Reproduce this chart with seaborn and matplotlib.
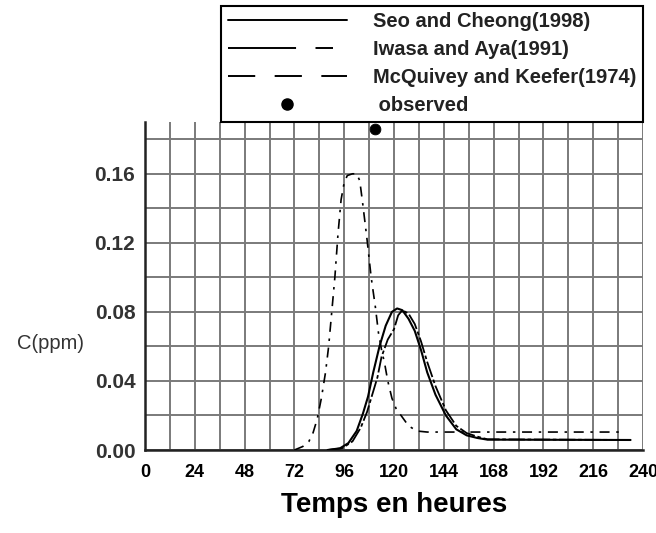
import matplotlib
matplotlib.use("Agg")
import matplotlib.pyplot as plt
from matplotlib.lines import Line2D
from matplotlib.ticker import MultipleLocator
import seaborn as sns
import pandas as pd

# ---------------- data ----------------
seo_hours = [88, 94, 98, 102, 105, 107.5, 110, 113, 116, 119, 121.5, 124, 127, 130,
             133, 136, 140, 145, 150, 155, 160, 165, 234]
seo_conc = [0.0, 0.001, 0.004, 0.011, 0.021, 0.031, 0.045, 0.060, 0.072, 0.080,
            0.082, 0.081, 0.076, 0.069, 0.058, 0.045, 0.032, 0.020, 0.012, 0.0085,
            0.007, 0.006, 0.0058]

iwasa_hours = [88, 95, 100, 104, 107, 110, 112, 114, 117, 120, 122, 124, 127, 130,
               133, 136, 140, 145, 150, 155, 160, 165, 234]
iwasa_conc = [0.0, 0.001, 0.005, 0.013, 0.022, 0.034, 0.042, 0.054, 0.064, 0.070,
              0.078, 0.081, 0.079, 0.073, 0.063, 0.051, 0.037, 0.023, 0.014, 0.0098,
              0.0078, 0.0062, 0.0058]

mcq_hours = [72, 76, 79, 81, 83, 85, 87, 88.5, 90, 91.5, 93, 94.5, 96, 97.5, 100,
             102, 103.5, 105, 107, 109, 111, 112.5, 114, 115.5, 117, 119, 121, 124,
             127, 131, 136, 231]
mcq_conc = [0.0, 0.002, 0.005, 0.010, 0.018, 0.030, 0.045, 0.060, 0.080, 0.100,
            0.125, 0.145, 0.155, 0.159, 0.160, 0.160, 0.156, 0.142, 0.122, 0.100,
            0.083, 0.068, 0.058, 0.050, 0.040, 0.030, 0.024, 0.019, 0.014, 0.011,
            0.0104, 0.0104]

obs_hours = [111]
obs_conc = [0.186]

x_ticks = [0, 24, 48, 72, 96, 120, 144, 168, 192, 216, 240]
y_ticks = [0.00, 0.04, 0.08, 0.12, 0.16]

legend_labels = ["Seo and Cheong(1998)", "Iwasa and Aya(1991)",
                 "McQuivey and Keefer(1974)", " observed"]

# ---------------- figure ----------------
sns.set_style("white")
plt.rcParams["font.family"] = ["Liberation Sans", "DejaVu Sans"]

W, H = 656, 533
fig = plt.figure(figsize=(W / 100, H / 100), dpi=100)
ax = fig.add_axes([145 / W, 1 - 450 / H, (643 - 145) / W, (450 - 122) / H])

seo_df = pd.DataFrame({"h": seo_hours, "c": seo_conc})
iwasa_df = pd.DataFrame({"h": iwasa_hours, "c": iwasa_conc})
mcq_df = pd.DataFrame({"h": mcq_hours, "c": mcq_conc})
obs_df = pd.DataFrame({"h": obs_hours, "c": obs_conc})

sns.lineplot(data=seo_df, x="h", y="c", ax=ax, color="black", lw=1.5, zorder=3)
sns.lineplot(data=iwasa_df, x="h", y="c", ax=ax, color="black", lw=1.3,
             linestyle=(0, (9, 1.5, 2, 1.5)), zorder=3)
sns.lineplot(data=mcq_df, x="h", y="c", ax=ax, color="black", lw=1.2,
             linestyle=(0, (6, 4, 1.5, 4)), zorder=3)
sns.scatterplot(data=obs_df, x="h", y="c", ax=ax, color="black", s=60,
                edgecolor="black", zorder=4, clip_on=True)

ax.set_xlim(0, 240)
ax.set_ylim(0, 0.19)
ax.set_xticks(x_ticks)
ax.set_yticks(y_ticks)
ax.set_yticklabels([f"{v:.2f}" for v in y_ticks])
ax.xaxis.set_minor_locator(MultipleLocator(12))
ax.yaxis.set_minor_locator(MultipleLocator(0.02))

ax.grid(True, which="both", color="#7a7a7a", lw=1.4, zorder=0)
ax.set_axisbelow(True)

for s in ["top", "right"]:
    ax.spines[s].set_visible(False)
for s in ["left", "bottom"]:
    ax.spines[s].set_color("#222222")
    ax.spines[s].set_linewidth(1.8)

ax.tick_params(axis="x", which="major", direction="out", length=6, width=1.5,
               pad=4, colors="#222222")
ax.tick_params(axis="x", which="minor", direction="out", length=4, width=1.5,
               colors="#222222")
ax.tick_params(axis="y", which="major", direction="out", length=7, width=1.5,
               pad=0, colors="#222222")
ax.tick_params(axis="y", which="minor", direction="out", length=4, width=1.5,
               colors="#222222")

for lab in ax.get_xticklabels():
    lab.set_fontfamily(["Liberation Sans Narrow", "Liberation Sans", "DejaVu Sans"])
    lab.set_fontweight("bold")
    lab.set_fontsize(13)
    lab.set_color("black")
for lab in ax.get_yticklabels():
    lab.set_fontweight("bold")
    lab.set_fontsize(15)
    lab.set_color("#333333")

ax.set_xlabel("Temps en heures", fontsize=20, fontweight="bold", labelpad=8,
              color="black")
ax.set_ylabel("C(ppm)", fontsize=14.5, rotation=0, ha="center", va="center",
              color="#333333")
ax.yaxis.set_label_coords(-0.19, 0.326)

# legend (custom handles reproduce the legend's own dash patterns)
handles = [
    Line2D([], [], color="black", lw=1.4, linestyle="-"),
    Line2D([], [], color="black", lw=1.4, linestyle=(0, (35, 10, 9, 30))),
    Line2D([], [], color="black", lw=1.4, linestyle=(0, (14, 10))),
    Line2D([], [], color="black", marker="o", markersize=8, linestyle="none"),
]
leg = fig.legend(handles, legend_labels, loc="lower right",
                 bbox_to_anchor=(643 / W, 1 - 122 / H),
                 frameon=True, fancybox=False, edgecolor="black",
                 framealpha=1, borderaxespad=0, borderpad=0.33,
                 handlelength=5.9, handletextpad=1.3, labelspacing=0.45,
                 prop={"family": "Liberation Sans", "weight": "bold", "size": 14.5})
leg.get_frame().set_linewidth(1.5)
for t in leg.get_texts():
    t.set_color("#222222")

fig.savefig("out.png", dpi=100)
